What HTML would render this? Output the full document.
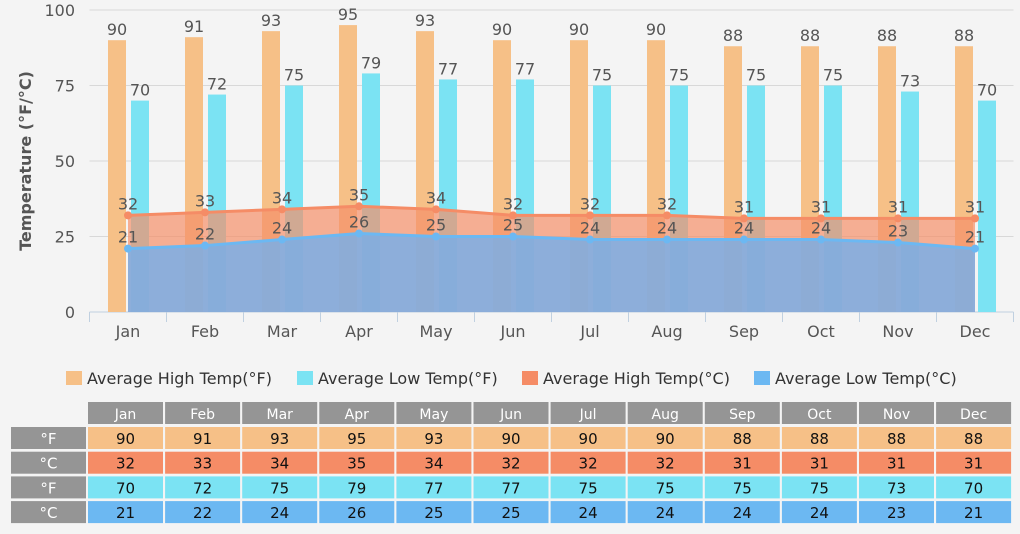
<!DOCTYPE html>
<html><head><meta charset="utf-8"><style>
body{margin:0;background:#f4f4f4;width:1020px;height:529px;overflow:hidden;font-family:"Liberation Sans","DejaVu Sans",sans-serif}
svg text{font-family:"DejaVu Sans","Liberation Sans",sans-serif}
</style></head><body>
<svg id="c" width="1020" height="529"></svg>
<script>
const months=["Jan","Feb","Mar","Apr","May","Jun","Jul","Aug","Sep","Oct","Nov","Dec"];
const highF=[90,91,93,95,93,90,90,90,88,88,88,88];
const lowF=[70,72,75,79,77,77,75,75,75,75,73,70];
const highC=[32,33,34,35,34,32,32,32,31,31,31,31];
const lowC=[21,22,24,26,25,25,24,24,24,24,23,21];
const yTicks=[0,25,50,75,100];
const NS="http://www.w3.org/2000/svg";
const svg=document.getElementById('c');
const L=89.5,W=924,cw=W/12,Y0=312,Y1=10;
const x=i=>L+cw*(i+0.5);
const y=v=>Y0-(Y0-Y1)*v/100;
function mk(t,a,p){const e=document.createElementNS(NS,t);for(const k in a)e.setAttribute(k,a[k]);(p||svg).appendChild(e);return e;}
// grid
yTicks.forEach(v=>{
 const g=mk('line',{x1:L,x2:L+W,y1:y(v),y2:y(v),stroke:v===0?'#c0d0e0':'#d8d8d8'});
 
 
 const t=mk('text',{x:75,y:y(v)+6,'text-anchor':'end','font-size':16,fill:'#555'});t.textContent=v;
 
 
});
for(let i=0;i<=12;i++){const tk=mk('line',{x1:L+cw*i,x2:L+cw*i,y1:Y0,y2:Y0+10,stroke:'#c0d0e0'});
 
 }
const yt=mk('text',{x:0,y:0,transform:'translate(31,161) rotate(-90)','text-anchor':'middle','font-size':16,'font-weight':'bold',fill:'#555'});
yt.textContent='Temperature (°F/°C)';


// bars
months.forEach((m,i)=>{
 const b1=mk('rect',{x:x(i)-20,y:y(highF[i]),width:18,height:Y0-y(highF[i]),fill:'#f6c087'});
 
 
 const b2=mk('rect',{x:x(i)+3,y:y(lowF[i]),width:18,height:Y0-y(lowF[i]),fill:'#7be3f3'});
 
 
 const t1=mk('text',{x:x(i)-11,y:y(highF[i])-5,'text-anchor':'middle','font-size':16,fill:'#555'});t1.textContent=highF[i];
 
 
 const t2=mk('text',{x:x(i)+12,y:y(lowF[i])-5,'text-anchor':'middle','font-size':16,fill:'#555'});t2.textContent=lowF[i];
 
 
 const xl=mk('text',{x:x(i),y:337,'text-anchor':'middle','font-size':16,fill:'#555'});xl.textContent=m;
 
 
});
function area(arr,fill,stroke,name,op){
 let d='M'+x(0)+','+Y0;arr.forEach((v,i)=>d+='L'+x(i)+','+y(v));d+='L'+x(11)+','+Y0+'Z';
 const a=mk('path',{d,fill,'fill-opacity':op});
 
 
 const l=mk('polyline',{points:arr.map((v,i)=>x(i)+','+y(v)).join(' '),fill:'none',stroke,'stroke-width':3});
 
 
 arr.forEach((v,i)=>{const c=mk('circle',{cx:x(i),cy:y(v),r:4,fill:stroke});
  
  
  const t=mk('text',{x:x(i),y:y(v)-6,'text-anchor':'middle','font-size':16,fill:'#555'});t.textContent=v;
  
  });
}
area(highC,'#f5906a','#f58c66','high-c',0.7);
area(lowC,'#7aaee6','#6cb8f2','low-c',0.85);
// legend
const leg=[["Average High Temp(°F)",'#f6c087',66],["Average Low Temp(°F)",'#7be3f3',297],["Average High Temp(°C)",'#f58c66',522],["Average Low Temp(°C)",'#6cb8f2',754]];
leg.forEach(([t,c,lx])=>{
 const g=mk('g',{});
 
 
 mk('rect',{x:lx,y:371,width:16,height:14,fill:c},g);
 const tx=mk('text',{x:lx+21,y:384,'font-size':16,fill:'#333','font-family':'Liberation Sans, sans-serif'},g);tx.textContent=t;
});
// table
const rows=[["°F",highF,'#f6c087'],["°C",highC,'#f58c66'],["°F",lowF,'#7be3f3'],["°C",lowC,'#6cb8f2']];
const cx=i=>88+i*77.1;
months.forEach((m,i)=>{
 mk('rect',{x:cx(i),y:402,width:75,height:22,fill:'#959595'});
 const t=mk('text',{x:cx(i)+37.5,y:419,'text-anchor':'middle','font-size':14,fill:'#fff'});t.textContent=m;
 
 
});
rows.forEach(([lab,arr,col],r)=>{
 const ry=427+r*24.7;
 mk('rect',{x:11,y:ry,width:75,height:22,fill:'#959595'});
 const lt=mk('text',{x:48.5,y:ry+17,'text-anchor':'middle','font-size':15,fill:'#fff'});lt.textContent=lab;
 
 
 arr.forEach((v,i)=>{
  mk('rect',{x:cx(i),y:ry,width:75,height:22,fill:col});
  const t=mk('text',{x:cx(i)+37.5,y:ry+17,'text-anchor':'middle','font-size':15,fill:'#111'});t.textContent=v;
  
  
 });
});
</script>
</body></html>
